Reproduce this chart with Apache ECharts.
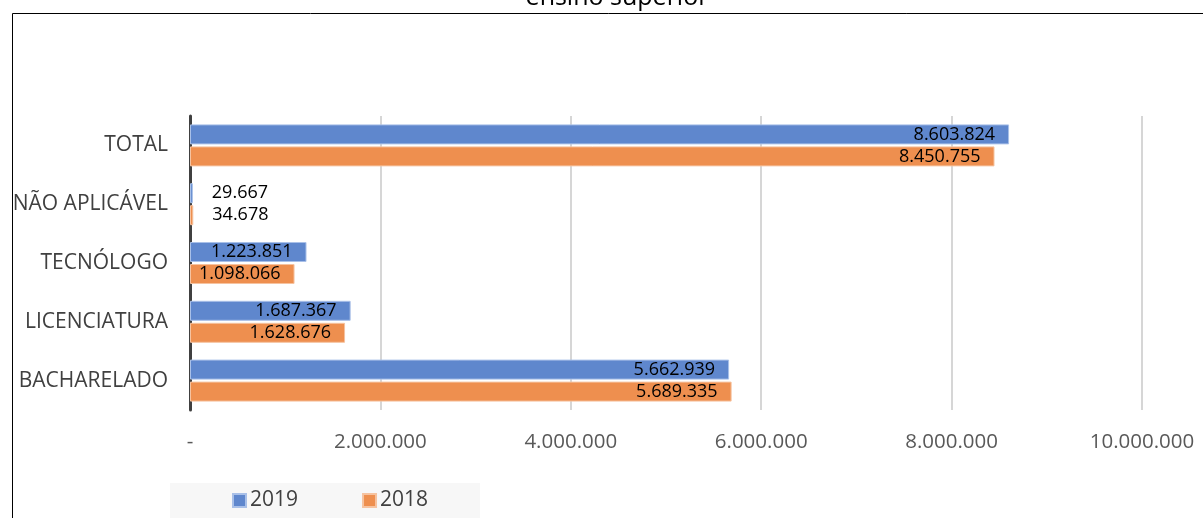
<!DOCTYPE html>
<html>
<head>
<meta charset="utf-8">
<script src="https://cdn.jsdelivr.net/npm/echarts@6/dist/echarts.min.js"></script>
<style>
  html, body { margin: 0; padding: 0; background: #fff; }
  #chart { width: 1203px; height: 518px; }
</style>
</head>
<body>
<div id="chart"></div>
<script>
// dados
const categorias = ["TOTAL", "NÃO APLICÁVEL", "TECNÓLOGO", "LICENCIATURA", "BACHARELADO"];
const valores2019 = [8603824, 29667, 1223851, 1687367, 5662939];
const valores2018 = [8450755, 34678, 1098066, 1628676, 5689335];
const anos = ["2019", "2018"];

const fmt = (v) => String(v).replace(/\B(?=(\d{3})+(?!\d))/g, ".");

// barras pequenas: rótulo fora da barra
const toData = (arr) => arr.map((v) => ({
  value: v,
  label: v < 500000 ? { position: "right", distance: 19 } : { position: "insideRight", distance: 14 }
}));

const chart = echarts.init(document.getElementById("chart"));
const fonte = "'Open Sans', 'Noto Sans', sans-serif";

const option = {
  animation: false,
  textStyle: { fontFamily: fonte },
  title: {
    text: "ensino superior",
    left: 612,
    textAlign: "center",
    top: -20,
    textStyle: { fontSize: 25, fontWeight: "normal", color: "#000", fontFamily: fonte }
  },
  graphic: [
    {
      type: "rect",
      shape: { x: 12.5, y: 13.5, width: 1200, height: 520 },
      style: { fill: "none", stroke: "#000", lineWidth: 1 },
      z: 0
    },
    {
      type: "rect",
      shape: { x: 170, y: 483, width: 310, height: 35 },
      style: { fill: "#F7F7F7" },
      z: 0
    }
  ],
  legend: {
    data: anos,
    left: 227,
    top: 485,
    itemWidth: 13,
    itemHeight: 13,
    itemGap: 64,
    icon: "rect",
    textStyle: { fontSize: 21, color: "#404040", fontFamily: fonte, padding: [0, 0, 0, -1] }
  },
  grid: { left: 190, right: 61, top: 116, bottom: 108, containLabel: false },
  xAxis: {
    type: "value",
    min: 0,
    max: 10000000,
    interval: 2000000,
    axisLine: { show: false },
    axisTick: { show: false },
    splitLine: { lineStyle: { color: "#C8C8C8", width: 1.5 } },
    axisLabel: {
      margin: 22,
      fontSize: 20.5,
      color: "#595959",
      fontFamily: fonte,
      formatter: (v) => (v === 0 ? "-" : fmt(v))
    }
  },
  yAxis: {
    type: "category",
    inverse: true,
    data: categorias,
    axisLine: { lineStyle: { color: "#404040", width: 3 } },
    axisTick: { show: false },
    axisLabel: { fontSize: 21, color: "#404040", margin: 22, fontFamily: fonte }
  },
  series: [
    {
      name: anos[0],
      type: "bar",
      data: toData(valores2019),
      barWidth: 20,
      barGap: "10%",
      itemStyle: { color: "#5F87CD", borderColor: "#A9C0E8", borderWidth: 1 },
      label: { show: true, color: "#000", fontSize: 18, formatter: (p) => fmt(p.value) }
    },
    {
      name: anos[1],
      type: "bar",
      data: toData(valores2018),
      barWidth: 20,
      barGap: "10%",
      itemStyle: { color: "#EE8F4F", borderColor: "#F6C3A0", borderWidth: 1 },
      label: { show: true, color: "#000", fontSize: 18, formatter: (p) => fmt(p.value) }
    }
  ]
};

chart.setOption(option);
</script>
</body>
</html>
